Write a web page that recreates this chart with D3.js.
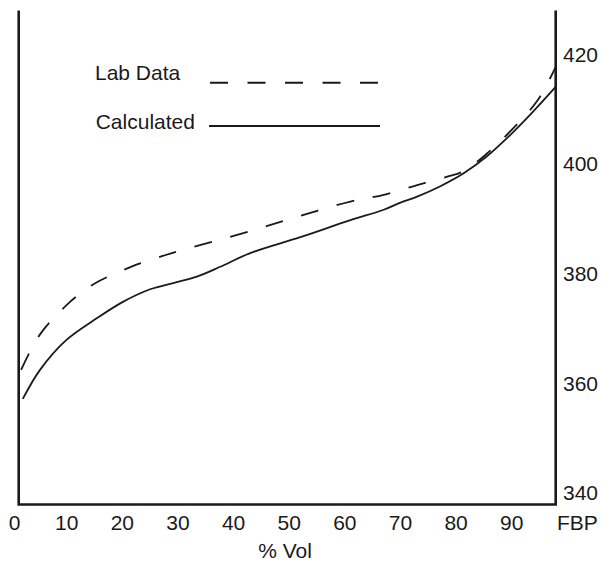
<!DOCTYPE html>
<html>
<head>
<meta charset="utf-8">
<script src="https://cdn.jsdelivr.net/npm/d3@7"></script>
<style>
  html, body { margin: 0; padding: 0; background: #fff; }
  svg { display: block; }
  text { font-family: "Liberation Sans", Arial, Helvetica, sans-serif; fill: #1a1a1a; }
</style>
</head>
<body>
<svg id="chart" width="601" height="562"></svg>
<script>
// ---- Data ----
const calcPct = [2.1, 5.2, 10, 15.4, 20.1, 25, 29.8, 33.4, 37.6, 43, 52, 61, 67, 70, 73, 77, 81.3, 85.5, 89.1, 93.3, 97.9];
const calcTemp = [357.1, 362.4, 367.9, 371.8, 374.8, 377.1, 378.4, 379.4, 381.2, 383.7, 386.6, 389.7, 391.6, 392.9, 394.0, 395.8, 398.2, 401.3, 404.6, 408.9, 414.0];

const labPct = [1.8, 4.0, 5.8, 8.2, 10.6, 13.3, 16, 19.3, 22.3, 25.6, 28.9, 43, 52, 61, 67, 73, 78.3, 81.3, 85.5, 90.6, 94.7, 97.9];
const labTemp = [362.4, 366.9, 369.7, 372.4, 374.8, 377.0, 378.7, 380.2, 381.5, 382.6, 383.7, 387.7, 390.5, 393.1, 394.3, 396.1, 397.6, 398.6, 401.8, 406.8, 411.6, 417.6];

const xTickValues = [0, 10, 20, 30, 40, 50, 60, 70, 80, 90, 100];
const xTickLabels = ["0", "10", "20", "30", "40", "50", "60", "70", "80", "90", "FBP"];
const yTickValues = [340, 360, 380, 400, 420];
const xTitle = "% Vol";
const legendLabels = ["Lab Data", "Calculated"];

// ---- Layout ----
const svg = d3.select("#chart");
const frame = { left: 18.7, right: 555.7, top: 10.5, bottom: 504.5 };
const x = d3.scaleLinear().domain([0, 100]).range([11.1, 567.3]);
const y = d3.scaleLinear().domain([340, 420]).range([492.7, 54]);
const fontSize = 21;
const ink = "#1a1a1a";

// Frame: left, bottom, right (no top)
svg.append("path")
  .attr("d", `M${frame.left},${frame.top} V${frame.bottom} H${frame.right} V${frame.top}`)
  .attr("fill", "none")
  .attr("stroke", ink)
  .attr("stroke-width", 2.6)
  .attr("stroke-linejoin", "miter");

// X tick labels
const xNudge = { 0: 3.5, 100: 10 };
svg.append("g").selectAll("text")
  .data(xTickValues)
  .join("text")
  .attr("x", d => x(d) + (xNudge[d] || 0))
  .attr("y", 530)
  .attr("text-anchor", "middle")
  .attr("font-size", fontSize)
  .text((d, i) => xTickLabels[i]);

// Y tick labels (right side)
svg.append("g").selectAll("text")
  .data(yTickValues)
  .join("text")
  .attr("x", 563)
  .attr("y", d => y(d) + 7.5)
  .attr("text-anchor", "start")
  .attr("font-size", fontSize)
  .text(d => d3.format("d")(d));

// X axis title
svg.append("text")
  .attr("x", 285)
  .attr("y", 557.5)
  .attr("text-anchor", "middle")
  .attr("font-size", fontSize)
  .text(xTitle);

// Lines
const line = d3.line()
  .x(d => x(d[0]))
  .y(d => y(d[1]))
  .curve(d3.curveCatmullRom.alpha(0.5));

const labData = labPct.map((p, i) => [p, labTemp[i]]);
const calcData = calcPct.map((p, i) => [p, calcTemp[i]]);

svg.append("path")
  .datum(labData)
  .attr("d", line)
  .attr("fill", "none")
  .attr("stroke", ink)
  .attr("stroke-width", 1.8)
  .attr("stroke-dasharray", "18,19");

svg.append("path")
  .datum(calcData)
  .attr("d", line)
  .attr("fill", "none")
  .attr("stroke", ink)
  .attr("stroke-width", 1.8);

// Legend
svg.append("text")
  .attr("x", 95).attr("y", 80)
  .attr("font-size", fontSize)
  .text(legendLabels[0]);
svg.append("line")
  .attr("x1", 210).attr("x2", 378)
  .attr("y1", 82.7).attr("y2", 82.7)
  .attr("stroke", ink).attr("stroke-width", 2)
  .attr("stroke-dasharray", "18,19.5");

svg.append("text")
  .attr("x", 95.7).attr("y", 129.2)
  .attr("font-size", fontSize)
  .text(legendLabels[1]);
svg.append("line")
  .attr("x1", 209).attr("x2", 380)
  .attr("y1", 126).attr("y2", 126)
  .attr("stroke", ink).attr("stroke-width", 1.8);
</script>
</body>
</html>
